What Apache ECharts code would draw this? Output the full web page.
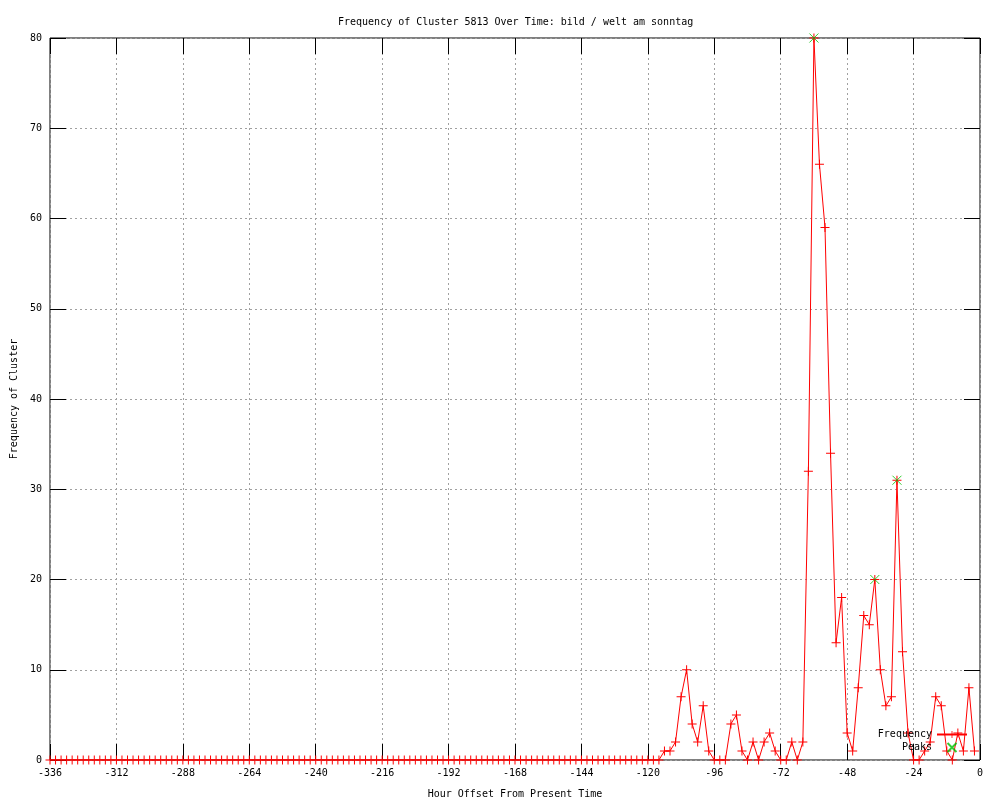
<!DOCTYPE html>
<html>
<head>
<meta charset="utf-8">
<script src="https://cdn.jsdelivr.net/npm/echarts@6/dist/echarts.min.js"></script>
<style>
html,body{margin:0;padding:0;background:#fff;}
#chart{width:1000px;height:800px;}
</style>
</head>
<body>
<div id="chart"></div>
<script>
var titleText = 'Frequency of Cluster 5813 Over Time: bild / welt am sonntag';
var xAxisName = 'Hour Offset From Present Time';
var yAxisName = 'Frequency of Cluster';

var hours = [
-336,-334,-332,-330,-328,-326,-324,-322,-320,-318,
-316,-314,-312,-310,-308,-306,-304,-302,-300,-298,
-296,-294,-292,-290,-288,-286,-284,-282,-280,-278,
-276,-274,-272,-270,-268,-266,-264,-262,-260,-258,
-256,-254,-252,-250,-248,-246,-244,-242,-240,-238,
-236,-234,-232,-230,-228,-226,-224,-222,-220,-218,
-216,-214,-212,-210,-208,-206,-204,-202,-200,-198,
-196,-194,-192,-190,-188,-186,-184,-182,-180,-178,
-176,-174,-172,-170,-168,-166,-164,-162,-160,-158,
-156,-154,-152,-150,-148,-146,-144,-142,-140,-138,
-136,-134,-132,-130,-128,-126,-124,-122,-120,-118,
-116,-114,-112,-110,-108,-106,-104,-102,-100,-98,
-96,-94,-92,-90,-88,-86,-84,-82,-80,-78,
-76,-74,-72,-70,-68,-66,-64,-62,-60,-58,
-56,-54,-52,-50,-48,-46,-44,-42,-40,-38,
-36,-34,-32,-30,-28,-26,-24,-22,-20,-18,
-16,-14,-12,-10,-8,-6,-4,-2
];

var frequency = [
0,0,0,0,0,0,0,0,0,0,
0,0,0,0,0,0,0,0,0,0,
0,0,0,0,0,0,0,0,0,0,
0,0,0,0,0,0,0,0,0,0,
0,0,0,0,0,0,0,0,0,0,
0,0,0,0,0,0,0,0,0,0,
0,0,0,0,0,0,0,0,0,0,
0,0,0,0,0,0,0,0,0,0,
0,0,0,0,0,0,0,0,0,0,
0,0,0,0,0,0,0,0,0,0,
0,0,0,0,0,0,0,0,0,0,
0,1,1,2,7,10,4,2,6,1,
0,0,0,4,5,1,0,2,0,2,
3,1,0,0,2,0,2,32,80,66,
59,34,13,18,3,1,8,16,15,20,
10,6,7,31,12,3,0,0,1,2,
7,6,1,0,3,1,8,1
];

var peakHours = [-60, -38, -30];
var peakValues = [80, 20, 31];

var FONT = 'DejaVu Sans Mono';
var plusPath = 'path://M0,4L9,4L9,5L0,5Z M4,0L5,0L5,9L4,9Z';
var xPath = 'path://M0,0L9,9M9,0L0,9';

var freqData = hours.map(function(h, i){ return [h, frequency[i]]; });
var peakData = peakHours.map(function(h, i){ return [h, peakValues[i]]; });

var chart = echarts.init(document.getElementById('chart'), null, {renderer:'canvas'});

var tickStyle = {show:true, inside:true, length:16, lineStyle:{color:'#000', width:1}};
var hiddenLine = {show:false, onZero:false};

chart.setOption({
  animation:false,
  backgroundColor:'#fff',
  title:{
    text:titleText,
    left:333, top:12,
    textStyle:{fontFamily:FONT, fontSize:10, fontWeight:'normal', color:'#000'}
  },
  legend:{
    orient:'vertical',
    right:27, top:723,
    align:'right',
    itemWidth:30, itemHeight:9, itemGap:0,
    textStyle:{fontFamily:FONT, fontSize:10, color:'#000', lineHeight:13},
    data:[{name:'Frequency'},{name:'Peaks'}]
  },
  grid:{left:50, right:20, top:38, bottom:40, containLabel:false, outerBoundsMode:'none',
        show:true, borderColor:'#000', borderWidth:1, backgroundColor:'transparent'},
  xAxis:[{
    type:'value', min:-336, max:0, interval:24,
    position:'bottom',
    name:xAxisName, nameLocation:'middle', nameGap:29,
    nameTextStyle:{fontFamily:FONT, fontSize:10, color:'#000'},
    axisLine:hiddenLine,
    axisTick:tickStyle,
    axisLabel:{fontFamily:FONT, fontSize:10, color:'#000', margin:8},
    splitLine:{show:true, lineStyle:{color:'#a0a0a0', type:[2,3], width:1}}
  },{
    type:'value', min:-336, max:0, interval:24,
    position:'top',
    axisLine:hiddenLine,
    axisTick:tickStyle,
    axisLabel:{show:false},
    splitLine:{show:false}
  }],
  yAxis:[{
    type:'value', min:0, max:80, interval:10,
    position:'left',
    name:yAxisName, nameLocation:'middle', nameGap:31, nameRotate:90,
    nameTextStyle:{fontFamily:FONT, fontSize:10, color:'#000'},
    axisLine:hiddenLine,
    axisTick:tickStyle,
    axisLabel:{fontFamily:FONT, fontSize:10, color:'#000', margin:8},
    splitLine:{show:true, lineStyle:{color:'#a0a0a0', type:[2,3], width:1}}
  },{
    type:'value', min:0, max:80, interval:10,
    position:'right',
    axisLine:hiddenLine,
    axisTick:tickStyle,
    axisLabel:{show:false},
    splitLine:{show:false}
  }],
  series:[{
    name:'Frequency',
    type:'line',
    data:freqData,
    showSymbol:true,
    showAllSymbol:true,
    symbol:plusPath,
    symbolSize:9,
    lineStyle:{color:'#ff0000', width:1},
    itemStyle:{color:'#ff0000', borderColor:'#ff0000', borderWidth:0},
    emphasis:{disabled:true},
    z:3
  },{
    name:'Peaks',
    type:'scatter',
    data:peakData,
    symbol:xPath,
    symbolSize:9,
    itemStyle:{color:'#00c000', borderColor:'#00c000', borderWidth:1},
    emphasis:{disabled:true},
    z:4
  }]
});
</script>
</body>
</html>
